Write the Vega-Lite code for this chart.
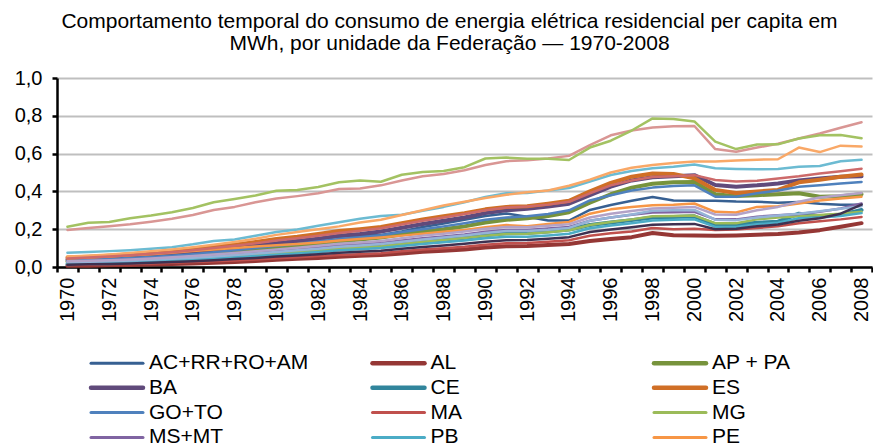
{
"$schema": "https://vega.github.io/schema/vega-lite/v6.json",
"width": 815, "height": 189,
"autosize": {"type": "none"},
"padding": {"left": 57, "top": 78, "right": 1, "bottom": 181},
"config": {"font": "Liberation Sans", "view": {"stroke": null}},
"title": {"text": ["Comportamento temporal do consumo de energia elétrica residencial per capita em", "MWh, por unidade da Federação — 1970-2008"], "fontSize": 21, "fontWeight": "normal", "color": "#000000", "anchor": "middle", "frame": "group", "dx": -15, "dy": 31, "offset": 28, "lineHeight": 22, "baseline": "alphabetic"},
"data": {"values": [
{"ano":1970,"AC+RR+RO+AM":0.025,"AL":0.006,"AP + PA":0.030,"BA":0.040,"CE":0.015,"ES":0.050,"GO+TO":0.035,"MA":0.010,"MG":0.020,"MS+MT":0.028,"PB":0.018,"PE":0.045,"PI":0.025,"PR":0.196,"RJ":0.213,"RN":0.030,"RS":0.076,"SC":0.055,"SE":0.012,"SP":0.045},
{"ano":1971,"AC+RR+RO+AM":0.028,"AL":0.007,"AP + PA":0.033,"BA":0.044,"CE":0.017,"ES":0.054,"GO+TO":0.038,"MA":0.012,"MG":0.022,"MS+MT":0.031,"PB":0.020,"PE":0.050,"PI":0.027,"PR":0.206,"RJ":0.234,"RN":0.033,"RS":0.079,"SC":0.060,"SE":0.014,"SP":0.050},
{"ano":1972,"AC+RR+RO+AM":0.032,"AL":0.009,"AP + PA":0.037,"BA":0.048,"CE":0.020,"ES":0.060,"GO+TO":0.042,"MA":0.014,"MG":0.025,"MS+MT":0.034,"PB":0.023,"PE":0.055,"PI":0.030,"PR":0.216,"RJ":0.238,"RN":0.036,"RS":0.084,"SC":0.066,"SE":0.016,"SP":0.055},
{"ano":1973,"AC+RR+RO+AM":0.038,"AL":0.011,"AP + PA":0.042,"BA":0.054,"CE":0.023,"ES":0.067,"GO+TO":0.047,"MA":0.016,"MG":0.028,"MS+MT":0.038,"PB":0.026,"PE":0.062,"PI":0.034,"PR":0.226,"RJ":0.258,"RN":0.040,"RS":0.089,"SC":0.074,"SE":0.019,"SP":0.062},
{"ano":1974,"AC+RR+RO+AM":0.045,"AL":0.013,"AP + PA":0.048,"BA":0.060,"CE":0.027,"ES":0.075,"GO+TO":0.053,"MA":0.019,"MG":0.032,"MS+MT":0.043,"PB":0.030,"PE":0.068,"PI":0.038,"PR":0.240,"RJ":0.272,"RN":0.045,"RS":0.096,"SC":0.083,"SE":0.022,"SP":0.070},
{"ano":1975,"AC+RR+RO+AM":0.055,"AL":0.016,"AP + PA":0.055,"BA":0.068,"CE":0.032,"ES":0.084,"GO+TO":0.060,"MA":0.022,"MG":0.037,"MS+MT":0.048,"PB":0.034,"PE":0.076,"PI":0.043,"PR":0.255,"RJ":0.290,"RN":0.051,"RS":0.105,"SC":0.093,"SE":0.026,"SP":0.078},
{"ano":1976,"AC+RR+RO+AM":0.068,"AL":0.019,"AP + PA":0.062,"BA":0.078,"CE":0.038,"ES":0.094,"GO+TO":0.068,"MA":0.026,"MG":0.043,"MS+MT":0.055,"PB":0.039,"PE":0.084,"PI":0.049,"PR":0.275,"RJ":0.312,"RN":0.058,"RS":0.120,"SC":0.105,"SE":0.031,"SP":0.088},
{"ano":1977,"AC+RR+RO+AM":0.080,"AL":0.023,"AP + PA":0.071,"BA":0.088,"CE":0.045,"ES":0.106,"GO+TO":0.078,"MA":0.030,"MG":0.049,"MS+MT":0.062,"PB":0.045,"PE":0.092,"PI":0.056,"PR":0.302,"RJ":0.343,"RN":0.066,"RS":0.138,"SC":0.118,"SE":0.036,"SP":0.100},
{"ano":1978,"AC+RR+RO+AM":0.090,"AL":0.027,"AP + PA":0.080,"BA":0.100,"CE":0.052,"ES":0.118,"GO+TO":0.088,"MA":0.035,"MG":0.056,"MS+MT":0.070,"PB":0.051,"PE":0.100,"PI":0.063,"PR":0.318,"RJ":0.360,"RN":0.074,"RS":0.146,"SC":0.132,"SE":0.042,"SP":0.112},
{"ano":1979,"AC+RR+RO+AM":0.100,"AL":0.032,"AP + PA":0.090,"BA":0.112,"CE":0.060,"ES":0.132,"GO+TO":0.100,"MA":0.040,"MG":0.063,"MS+MT":0.078,"PB":0.058,"PE":0.108,"PI":0.071,"PR":0.343,"RJ":0.378,"RN":0.083,"RS":0.165,"SC":0.150,"SE":0.048,"SP":0.125},
{"ano":1980,"AC+RR+RO+AM":0.115,"AL":0.038,"AP + PA":0.102,"BA":0.126,"CE":0.068,"ES":0.148,"GO+TO":0.112,"MA":0.046,"MG":0.071,"MS+MT":0.087,"PB":0.065,"PE":0.115,"PI":0.080,"PR":0.362,"RJ":0.403,"RN":0.093,"RS":0.185,"SC":0.170,"SE":0.055,"SP":0.140},
{"ano":1981,"AC+RR+RO+AM":0.130,"AL":0.043,"AP + PA":0.112,"BA":0.138,"CE":0.076,"ES":0.160,"GO+TO":0.122,"MA":0.052,"MG":0.079,"MS+MT":0.095,"PB":0.072,"PE":0.122,"PI":0.088,"PR":0.375,"RJ":0.408,"RN":0.102,"RS":0.198,"SC":0.185,"SE":0.061,"SP":0.152},
{"ano":1982,"AC+RR+RO+AM":0.145,"AL":0.048,"AP + PA":0.124,"BA":0.150,"CE":0.085,"ES":0.175,"GO+TO":0.135,"MA":0.058,"MG":0.087,"MS+MT":0.104,"PB":0.080,"PE":0.130,"PI":0.097,"PR":0.390,"RJ":0.423,"RN":0.112,"RS":0.218,"SC":0.200,"SE":0.068,"SP":0.165},
{"ano":1983,"AC+RR+RO+AM":0.160,"AL":0.054,"AP + PA":0.136,"BA":0.165,"CE":0.095,"ES":0.190,"GO+TO":0.148,"MA":0.064,"MG":0.096,"MS+MT":0.114,"PB":0.088,"PE":0.140,"PI":0.107,"PR":0.413,"RJ":0.448,"RN":0.123,"RS":0.237,"SC":0.215,"SE":0.076,"SP":0.180},
{"ano":1984,"AC+RR+RO+AM":0.165,"AL":0.059,"AP + PA":0.146,"BA":0.175,"CE":0.102,"ES":0.200,"GO+TO":0.158,"MA":0.068,"MG":0.103,"MS+MT":0.120,"PB":0.094,"PE":0.148,"PI":0.114,"PR":0.415,"RJ":0.458,"RN":0.130,"RS":0.255,"SC":0.235,"SE":0.081,"SP":0.192},
{"ano":1985,"AC+RR+RO+AM":0.170,"AL":0.063,"AP + PA":0.156,"BA":0.188,"CE":0.110,"ES":0.212,"GO+TO":0.168,"MA":0.073,"MG":0.110,"MS+MT":0.127,"PB":0.100,"PE":0.156,"PI":0.122,"PR":0.432,"RJ":0.451,"RN":0.138,"RS":0.270,"SC":0.250,"SE":0.086,"SP":0.205},
{"ano":1986,"AC+RR+RO+AM":0.188,"AL":0.072,"AP + PA":0.172,"BA":0.208,"CE":0.122,"ES":0.232,"GO+TO":0.185,"MA":0.083,"MG":0.122,"MS+MT":0.140,"PB":0.111,"PE":0.166,"PI":0.134,"PR":0.458,"RJ":0.488,"RN":0.152,"RS":0.276,"SC":0.275,"SE":0.096,"SP":0.225},
{"ano":1987,"AC+RR+RO+AM":0.212,"AL":0.080,"AP + PA":0.188,"BA":0.228,"CE":0.135,"ES":0.252,"GO+TO":0.200,"MA":0.092,"MG":0.134,"MS+MT":0.152,"PB":0.122,"PE":0.176,"PI":0.146,"PR":0.480,"RJ":0.503,"RN":0.166,"RS":0.298,"SC":0.300,"SE":0.106,"SP":0.245},
{"ano":1988,"AC+RR+RO+AM":0.230,"AL":0.086,"AP + PA":0.200,"BA":0.245,"CE":0.145,"ES":0.268,"GO+TO":0.215,"MA":0.099,"MG":0.143,"MS+MT":0.162,"PB":0.131,"PE":0.186,"PI":0.156,"PR":0.492,"RJ":0.508,"RN":0.176,"RS":0.318,"SC":0.325,"SE":0.114,"SP":0.262},
{"ano":1989,"AC+RR+RO+AM":0.250,"AL":0.093,"AP + PA":0.215,"BA":0.262,"CE":0.155,"ES":0.285,"GO+TO":0.232,"MA":0.107,"MG":0.153,"MS+MT":0.172,"PB":0.140,"PE":0.196,"PI":0.167,"PR":0.512,"RJ":0.528,"RN":0.188,"RS":0.343,"SC":0.345,"SE":0.123,"SP":0.280},
{"ano":1990,"AC+RR+RO+AM":0.270,"AL":0.103,"AP + PA":0.235,"BA":0.285,"CE":0.168,"ES":0.305,"GO+TO":0.250,"MA":0.118,"MG":0.165,"MS+MT":0.186,"PB":0.152,"PE":0.210,"PI":0.180,"PR":0.540,"RJ":0.574,"RN":0.202,"RS":0.370,"SC":0.365,"SE":0.134,"SP":0.300},
{"ano":1991,"AC+RR+RO+AM":0.283,"AL":0.110,"AP + PA":0.250,"BA":0.300,"CE":0.178,"ES":0.318,"GO+TO":0.262,"MA":0.126,"MG":0.175,"MS+MT":0.196,"PB":0.160,"PE":0.222,"PI":0.190,"PR":0.560,"RJ":0.579,"RN":0.212,"RS":0.390,"SC":0.382,"SE":0.142,"SP":0.315},
{"ano":1992,"AC+RR+RO+AM":0.266,"AL":0.111,"AP + PA":0.258,"BA":0.308,"CE":0.180,"ES":0.322,"GO+TO":0.268,"MA":0.127,"MG":0.176,"MS+MT":0.196,"PB":0.160,"PE":0.216,"PI":0.190,"PR":0.565,"RJ":0.573,"RN":0.210,"RS":0.392,"SC":0.395,"SE":0.143,"SP":0.320},
{"ano":1993,"AC+RR+RO+AM":0.246,"AL":0.116,"AP + PA":0.270,"BA":0.320,"CE":0.188,"ES":0.335,"GO+TO":0.280,"MA":0.134,"MG":0.184,"MS+MT":0.204,"PB":0.167,"PE":0.228,"PI":0.197,"PR":0.574,"RJ":0.573,"RN":0.218,"RS":0.405,"SC":0.405,"SE":0.150,"SP":0.330},
{"ano":1994,"AC+RR+RO+AM":0.246,"AL":0.122,"AP + PA":0.290,"BA":0.335,"CE":0.198,"ES":0.350,"GO+TO":0.300,"MA":0.142,"MG":0.194,"MS+MT":0.212,"PB":0.176,"PE":0.238,"PI":0.207,"PR":0.588,"RJ":0.566,"RN":0.226,"RS":0.418,"SC":0.430,"SE":0.158,"SP":0.345},
{"ano":1995,"AC+RR+RO+AM":0.302,"AL":0.138,"AP + PA":0.340,"BA":0.380,"CE":0.222,"ES":0.400,"GO+TO":0.352,"MA":0.165,"MG":0.222,"MS+MT":0.245,"PB":0.205,"PE":0.282,"PI":0.245,"PR":0.645,"RJ":0.632,"RN":0.262,"RS":0.452,"SC":0.462,"SE":0.185,"SP":0.390},
{"ano":1996,"AC+RR+RO+AM":0.328,"AL":0.148,"AP + PA":0.385,"BA":0.425,"CE":0.235,"ES":0.445,"GO+TO":0.380,"MA":0.178,"MG":0.238,"MS+MT":0.262,"PB":0.220,"PE":0.305,"PI":0.262,"PR":0.697,"RJ":0.668,"RN":0.282,"RS":0.487,"SC":0.500,"SE":0.198,"SP":0.432},
{"ano":1997,"AC+RR+RO+AM":0.350,"AL":0.158,"AP + PA":0.420,"BA":0.458,"CE":0.248,"ES":0.478,"GO+TO":0.405,"MA":0.188,"MG":0.252,"MS+MT":0.276,"PB":0.232,"PE":0.318,"PI":0.278,"PR":0.722,"RJ":0.722,"RN":0.296,"RS":0.508,"SC":0.525,"SE":0.210,"SP":0.458},
{"ano":1998,"AC+RR+RO+AM":0.370,"AL":0.180,"AP + PA":0.440,"BA":0.475,"CE":0.262,"ES":0.495,"GO+TO":0.420,"MA":0.206,"MG":0.268,"MS+MT":0.288,"PB":0.246,"PE":0.327,"PI":0.298,"PR":0.738,"RJ":0.786,"RN":0.310,"RS":0.522,"SC":0.540,"SE":0.224,"SP":0.476},
{"ano":1999,"AC+RR+RO+AM":0.352,"AL":0.168,"AP + PA":0.448,"BA":0.480,"CE":0.265,"ES":0.492,"GO+TO":0.428,"MA":0.200,"MG":0.270,"MS+MT":0.290,"PB":0.250,"PE":0.330,"PI":0.300,"PR":0.745,"RJ":0.783,"RN":0.314,"RS":0.530,"SC":0.550,"SE":0.226,"SP":0.480},
{"ano":2000,"AC+RR+RO+AM":0.350,"AL":0.167,"AP + PA":0.450,"BA":0.486,"CE":0.268,"ES":0.470,"GO+TO":0.432,"MA":0.202,"MG":0.272,"MS+MT":0.292,"PB":0.252,"PE":0.336,"PI":0.302,"PR":0.746,"RJ":0.770,"RN":0.318,"RS":0.542,"SC":0.558,"SE":0.228,"SP":0.486},
{"ano":2001,"AC+RR+RO+AM":0.350,"AL":0.165,"AP + PA":0.385,"BA":0.434,"CE":0.225,"ES":0.408,"GO+TO":0.372,"MA":0.196,"MG":0.232,"MS+MT":0.252,"PB":0.212,"PE":0.292,"PI":0.250,"PR":0.624,"RJ":0.663,"RN":0.278,"RS":0.522,"SC":0.558,"SE":0.200,"SP":0.460},
{"ano":2002,"AC+RR+RO+AM":0.346,"AL":0.167,"AP + PA":0.375,"BA":0.425,"CE":0.224,"ES":0.392,"GO+TO":0.372,"MA":0.198,"MG":0.232,"MS+MT":0.252,"PB":0.212,"PE":0.288,"PI":0.248,"PR":0.610,"RJ":0.624,"RN":0.276,"RS":0.519,"SC":0.563,"SE":0.202,"SP":0.452},
{"ano":2003,"AC+RR+RO+AM":0.345,"AL":0.171,"AP + PA":0.380,"BA":0.432,"CE":0.234,"ES":0.400,"GO+TO":0.390,"MA":0.206,"MG":0.252,"MS+MT":0.266,"PB":0.226,"PE":0.318,"PI":0.262,"PR":0.632,"RJ":0.648,"RN":0.300,"RS":0.517,"SC":0.568,"SE":0.215,"SP":0.456},
{"ano":2004,"AC+RR+RO+AM":0.340,"AL":0.175,"AP + PA":0.385,"BA":0.442,"CE":0.240,"ES":0.408,"GO+TO":0.405,"MA":0.216,"MG":0.262,"MS+MT":0.274,"PB":0.234,"PE":0.322,"PI":0.272,"PR":0.652,"RJ":0.649,"RN":0.318,"RS":0.519,"SC":0.570,"SE":0.225,"SP":0.468},
{"ano":2005,"AC+RR+RO+AM":0.344,"AL":0.183,"AP + PA":0.390,"BA":0.458,"CE":0.282,"ES":0.448,"GO+TO":0.424,"MA":0.232,"MG":0.268,"MS+MT":0.280,"PB":0.258,"PE":0.336,"PI":0.282,"PR":0.680,"RJ":0.680,"RN":0.345,"RS":0.530,"SC":0.632,"SE":0.245,"SP":0.480},
{"ano":2006,"AC+RR+RO+AM":0.335,"AL":0.195,"AP + PA":0.372,"BA":0.468,"CE":0.268,"ES":0.462,"GO+TO":0.432,"MA":0.242,"MG":0.275,"MS+MT":0.292,"PB":0.262,"PE":0.352,"PI":0.295,"PR":0.706,"RJ":0.697,"RN":0.368,"RS":0.534,"SC":0.608,"SE":0.258,"SP":0.495},
{"ano":2007,"AC+RR+RO+AM":0.330,"AL":0.213,"AP + PA":0.375,"BA":0.477,"CE":0.276,"ES":0.478,"GO+TO":0.442,"MA":0.252,"MG":0.282,"MS+MT":0.310,"PB":0.270,"PE":0.362,"PI":0.308,"PR":0.737,"RJ":0.698,"RN":0.380,"RS":0.560,"SC":0.642,"SE":0.282,"SP":0.507},
{"ano":2008,"AC+RR+RO+AM":0.330,"AL":0.232,"AP + PA":0.385,"BA":0.480,"CE":0.302,"ES":0.490,"GO+TO":0.450,"MA":0.265,"MG":0.292,"MS+MT":0.336,"PB":0.285,"PE":0.372,"PI":0.322,"PR":0.766,"RJ":0.681,"RN":0.392,"RS":0.567,"SC":0.638,"SE":0.330,"SP":0.520}
]},
"transform": [{"fold": ["AC+RR+RO+AM","AL","AP + PA","BA","CE","ES","GO+TO","MA","MG","MS+MT","PB","PE","PI","PR","RJ","RN","RS","SC","SE","SP"], "as": ["uf","v"]}],
"mark": {"type": "line", "strokeJoin": "round", "strokeCap": "round"},
"encoding": {
  "x": {"field": "ano", "type": "ordinal", "bandPosition": 0.5, "scale": {"type": "band", "paddingInner": 0, "paddingOuter": 0},
        "axis": {"title": null, "labelAngle": 270, "labelExpr": "datum.value % 2 == 0 ? datum.label : ''", "labelOverlap": false, "labelFontSize": 20, "labelColor": "#000000", "labelPadding": 5, "tickBand": "extent", "tickSize": 5, "tickWidth": 2.5, "tickColor": "#000000", "domainColor": "#000000", "domainWidth": 2.5, "grid": false}},
  "y": {"field": "v", "type": "quantitative", "scale": {"domain": [0, 1], "nice": false},
        "axis": {"title": null, "values": [0, 0.2, 0.4, 0.6, 0.8, 1], "labelExpr": "replace(format(datum.value, '.1f'), '.', ',')", "labelFontSize": 20, "labelColor": "#000000", "labelPadding": 10, "tickSize": 5, "tickWidth": 2.5, "tickColor": "#000000", "domainColor": "#000000", "domainWidth": 2.5, "gridColor": "#BFBFBF", "gridWidth": 1.8}},
  "color": {"field": "uf", "type": "nominal",
    "scale": {"domain": ["AC+RR+RO+AM","AL","AP + PA","BA","CE","ES","GO+TO","MA","MG","MS+MT","PB","PE","PI","PR","RJ","RN","RS","SC","SE","SP"],
              "range": ["#376092","#953735","#77933C","#604A7B","#31859C","#D06F26","#4F81BD","#C0504D","#9BBB59","#8064A2","#4BACC6","#F79646","#95B3D7","#D99694","#A3C262","#B3A2C7","#6CBBD2","#F9A867","#3F3151","#CD6A6A"]},
    "legend": {"orient": "none", "legendX": 49.5, "legendY": 274.5, "direction": "horizontal", "columns": 3, "gridAlign": "all", "title": null, "padding": 0,
               "values": ["AC+RR+RO+AM","AL","AP + PA","BA","CE","ES","GO+TO","MA","MG","MS+MT","PB","PE"],
               "symbolType": "stroke", "symbolSize": 2704, "symbolStrokeWidth": 3, "labelFontSize": 21, "labelColor": "#000000", "labelOffset": 21.5, "columnPadding": 54.5, "rowPadding": 2.8, "labelLimit": 0,
               "encode": {"symbols": {"update": {"strokeWidth": {"signal": "indexof(['AL','AP + PA','BA','CE','ES'], datum.value) >= 0 ? 4.5 : 3"}, "strokeCap": {"value": "round"}}}}}},
  "strokeWidth": {"condition": {"test": "indexof(['AL','AP + PA','BA','CE','ES'], datum.uf) >= 0", "value": 4}, "value": 2.5}
}
}
